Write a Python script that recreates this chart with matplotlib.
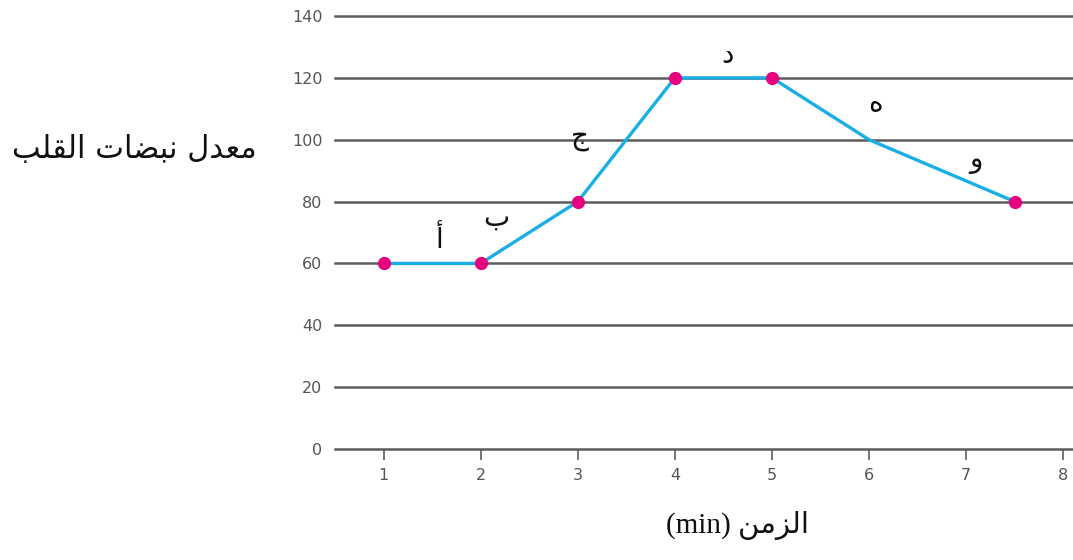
import matplotlib
matplotlib.use("Agg")
import matplotlib.pyplot as plt

# ---- data ----
times = [1, 2, 3, 4, 5, 6, 7.5]
rates = [60, 60, 80, 120, 120, 100, 80]
marked = [True, True, True, True, True, False, True]
x_ticks = [1, 2, 3, 4, 5, 6, 7, 8]
y_ticks = [0, 20, 40, 60, 80, 100, 120, 140]
seg_labels = ["أ", "ب", "ج", "د", "ه", "و"]
seg_label_x = [1.58, 2.16, 3.02, 4.54, 6.07, 7.10]
seg_label_y = [67.6, 74.7, 100.9, 127.4, 111.9, 93.4]

# Arabic labels written in visual (left-to-right) order with presentation forms
y_label = "\uFE90\uFEE0\uFED8\uFEDF\uFE8D \uFE95\uFE8E\uFEC0\uFE92\uFEE7 \uFEDD\uFEAA\uFECC\uFEE3"  # معدل نبضات القلب
x_label_ar = "\uFEE6\uFEE3\uFEB0\uFEDF\uFE8D"  # الزمن

fig = plt.figure(figsize=(10.73, 5.6), dpi=100)
ax = fig.add_axes([335/1073, 111/560, 738/1073, 433/560])
ax.set_xlim(0.5, 8.1)
ax.set_ylim(0, 140)

grid_c = "#5c5c5c"
for y in y_ticks:
    ax.axhline(y, color=grid_c, lw=1.8, zorder=1, clip_on=False)

for s in ax.spines.values():
    s.set_visible(False)

ax.set_xticks(x_ticks)
ax.set_yticks(y_ticks)
ax.tick_params(axis="x", length=8, width=1.2, color=grid_c, labelcolor="#555555",
               labelsize=11.5, pad=6)
ax.tick_params(axis="y", length=0, labelcolor="#555555", labelsize=11.5, pad=9)

ax.plot(times, rates, color="#1aaee6", lw=2.4, zorder=3, solid_joinstyle="round")
mx = [t for t, m in zip(times, marked) if m]
my = [r for r, m in zip(rates, marked) if m]
ax.plot(mx, my, ls="none", marker="o", ms=8.5, color="#e6007e", zorder=4, clip_on=False)

for lab, lx, ly in zip(seg_labels, seg_label_x, seg_label_y):
    ax.text(lx, ly, lab, fontsize=20, ha="center", va="center", color="#111111",
            family=["DejaVu Sans"])

fig.text(134/1073, 1 - 150/560, y_label, fontsize=22, ha="center", va="center",
         family=["DejaVu Sans"], color="#111111")
fig.text(737/1073, 1 - 525/560, "(min) " + x_label_ar, fontsize=21, ha="center",
         va="center", family=["Liberation Serif", "DejaVu Sans"], color="#111111")

fig.savefig("out.png", dpi=100, facecolor="white")
